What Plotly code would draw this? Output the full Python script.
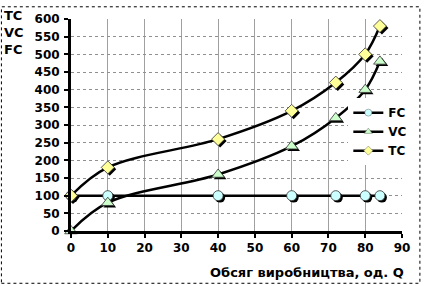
import plotly.graph_objects as go

Q = [0, 10, 40, 60, 72, 80, 84]
FC = [100, 100, 100, 100, 100, 100, 100]
VC = [0, 80, 160, 240, 320, 400, 480]
TC = [100, 180, 260, 340, 420, 500, 580]
x_ticks = list(range(0, 91, 10))
y_ticks = list(range(0, 601, 50))

W, H = 424, 286
L, R, T, B = 71, 20, 14, 55
PW, PH = W - L - R, H - T - B
XR = [0, 90]
YR = [0, 600]
sx = 2 * (XR[1] - XR[0]) / PW
sy = 2 * (YR[1] - YR[0]) / PH

FONT = dict(family="DejaVu Sans, Verdana, sans-serif", size=12, color="black", weight="bold")
FONT13 = dict(FONT, size=13)

series = [
    ("FC", FC, "circle", "#CCFFFF", 10),
    ("VC", VC, "triangle-up", "#CCFFCC", 11),
    ("TC", TC, "diamond", "#FFFF99", 10),
]

fig = go.Figure()
# marker shadows on offset axes (x2/y2)
for name, ys, sym, col, sz in series:
    fig.add_trace(go.Scatter(x=Q, y=ys, mode="markers", xaxis="x2", yaxis="y2",
                             marker=dict(symbol=sym, size=sz, color="black"),
                             showlegend=False, hoverinfo="skip", cliponaxis=False))
# data on overlay axes (x3/y3) with true ranges
for name, ys, sym, col, sz in series:
    fig.add_trace(go.Scatter(x=Q, y=ys, mode="lines+markers", name=name, xaxis="x3", yaxis="y3",
                             line=dict(color="black", width=2.5, shape="spline", smoothing=1),
                             marker=dict(symbol=sym, size=sz, color=col,
                                         line=dict(color="#333333", width=0.8)),
                             showlegend=False, cliponaxis=False))
# legend entries with small markers
for name, ys, sym, col, sz in series:
    fig.add_trace(go.Scatter(x=[None], y=[None], mode="lines+markers", name=name,
                             line=dict(color="black", width=2.5),
                             marker=dict(symbol=sym, size=7, color=col,
                                         line=dict(color="#666666", width=0.5))))

fig.update_layout(
    width=W, height=H,
    margin=dict(l=L, r=R, t=T, b=B),
    paper_bgcolor="white", plot_bgcolor="white",
    font=FONT,
    xaxis=dict(range=XR, tickvals=x_ticks, showgrid=True, gridcolor="#a0a0a0", gridwidth=1,
               showline=True, linecolor="black", linewidth=3, ticks="outside", ticklen=4,
               tickwidth=2, tickcolor="black", zeroline=False, tickfont=FONT),
    yaxis=dict(range=YR, tickvals=y_ticks, showgrid=True, gridcolor="#909090", gridwidth=1,
               griddash="dot", showline=True, linecolor="black", linewidth=3,
               ticks="outside", ticklen=4, tickwidth=2, tickcolor="black",
               zeroline=False, tickfont=FONT, ticklabelstandoff=2),
    xaxis2=dict(range=[XR[0] - sx, XR[1] - sx], overlaying="x", visible=False),
    yaxis2=dict(range=[YR[0] + sy, YR[1] + sy], overlaying="y", visible=False),
    xaxis3=dict(range=XR, overlaying="x", visible=False),
    yaxis3=dict(range=YR, overlaying="y", visible=False),
    legend=dict(x=(350 - L) / PW, y=1 - (95 - T) / PH, xanchor="left", yanchor="top",
                bgcolor="white", font=FONT, itemwidth=30, tracegroupgap=0),
    showlegend=True,
)

fig.add_annotation(text="TC<br>VC<br>FC", xref="paper", yref="paper",
                   x=(2 - L) / PW, y=1 + (T - 1) / PH, xanchor="left", yanchor="top",
                   align="left", showarrow=False, font=FONT13)
fig.add_annotation(text="Обсяг виробництва, од. Q", xref="paper", yref="paper",
                   x=1 + 4 / PW, y=-(273 - T - PH) / PH, xanchor="right", yanchor="middle",
                   showarrow=False, font=FONT13)
fig.add_shape(type="rect", xref="paper", yref="paper",
              x0=(1 - L) / PW, x1=1 + (R - 2) / PW, y0=-(B - 1.5) / PH, y1=1 + (T - 1.5) / PH,
              line=dict(color="black", width=1, dash="dot"), layer="above")

fig.write_html("out.html")
